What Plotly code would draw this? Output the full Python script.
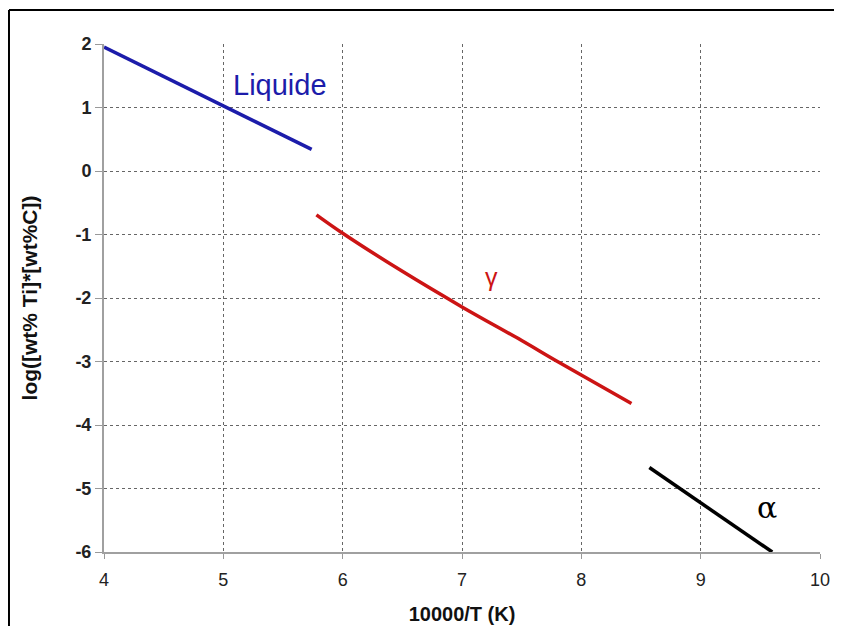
import plotly.graph_objects as go

liq_x = [4.0, 5.74]
liq_y = [1.95, 0.34]

gam_x = [5.78, 6.0, 6.5, 7.0, 7.5, 7.8, 8.42]
gam_y = [-0.69, -0.98, -1.58, -2.14, -2.67, -3.0, -3.66]

alp_x = [8.57, 9.6]
alp_y = [-4.67, -6.0]

x_ticks = [4, 5, 6, 7, 8, 9, 10]
y_ticks = [2, 1, 0, -1, -2, -3, -4, -5, -6]
y_tick_text = ["2", "1", "0", "-1", "-2", "-3", "-4", "-5", "-6"]

fig = go.Figure()
fig.add_trace(go.Scatter(x=liq_x, y=liq_y, mode="lines",
                         line=dict(color="#1c1caa", width=3.5), showlegend=False))
fig.add_trace(go.Scatter(x=gam_x, y=gam_y, mode="lines", line_shape="spline",
                         line=dict(color="#cc1414", width=3.5), showlegend=False))
fig.add_trace(go.Scatter(x=alp_x, y=alp_y, mode="lines",
                         line=dict(color="#000000", width=3.5), showlegend=False))

fig.add_annotation(x=5.475, y=1.35, text="Liquide", showarrow=False,
                   font=dict(family="Arial, Liberation Sans", size=29, color="#1c1caa"))
fig.add_annotation(x=7.25, y=-1.67, text="γ", showarrow=False,
                   font=dict(family="Arial, Liberation Sans", size=25, color="#cc1414"))
fig.add_annotation(x=9.555, y=-5.3, text="α", showarrow=False,
                   font=dict(family="DejaVu Serif, serif", size=30, color="#000000"))

# outer frame: only the top and left edges are visible in the reference
fig.add_shape(type="line", xref="paper", yref="paper",
              x0=-0.1327, x1=1.3, y0=1.067, y1=1.067,
              line=dict(color="black", width=2))
fig.add_shape(type="line", xref="paper", yref="paper",
              x0=-0.1327, x1=-0.1327, y0=-0.4, y1=1.067,
              line=dict(color="black", width=2))

fig.update_layout(
    width=834, height=618,
    margin=dict(l=96, r=22, t=36, b=74),
    paper_bgcolor="white", plot_bgcolor="white",
    font=dict(family="Arial, Liberation Sans", color="#222"),
)
fig.update_xaxes(range=[4, 10], tickvals=x_ticks, ticks="outside", ticklen=5,
                 tickcolor="#999", showline=True, linecolor="#a0a0a0", linewidth=2,
                 showgrid=True, gridcolor="#666", griddash="dot", gridwidth=1,
                 tickfont=dict(size=18, color="#222"), automargin=False,
                 ticklabelstandoff=5,
                 title=dict(text="<b>10000/T (K)</b>", font=dict(size=20, color="#111"), standoff=18),
                 zeroline=False)
fig.update_yaxes(range=[-6, 2], tickvals=y_ticks, ticktext=y_tick_text,
                 ticks="outside", ticklen=7,
                 tickcolor="#999", showline=True, linecolor="#a0a0a0", linewidth=2,
                 showgrid=True, gridcolor="#666", griddash="dot", gridwidth=1,
                 tickfont=dict(size=18, color="#222", weight="bold"), automargin=False,
                 title=dict(text="<b>log([wt% Ti]*[wt%C])</b>", font=dict(size=21, color="#111"), standoff=32),
                 zeroline=False)

fig.write_html("out.html")
